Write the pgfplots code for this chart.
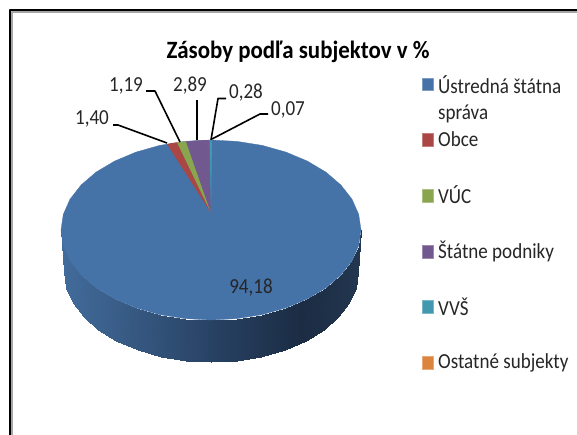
\documentclass[border=0pt]{standalone}
\usepackage{fontspec}
\setmainfont{Carlito}
\usepackage{pgfplots}
\pgfplotsset{compat=1.18}
\definecolor{cblue}{HTML}{4572A7}
\definecolor{cred}{HTML}{AA4643}
\definecolor{cgreen}{HTML}{89A54E}
\definecolor{cpurple}{HTML}{71588F}
\definecolor{cteal}{HTML}{4198AF}
\definecolor{corange}{HTML}{DB843D}
\pgfplotsset{
 colormap={side}{
  rgb255(0cm)=(66,108,156);
  rgb255(4cm)=(56,92,134);
  rgb255(10cm)=(40,66,100);
  rgb255(16cm)=(27,44,67);
  rgb255(20cm)=(35,55,80)
 }
}
\tikzset{lbl/.style={font=\fontsize{21.5}{21.5}\selectfont,text=black!85,inner sep=0pt,xscale=0.89},
 leg/.style={font=\fontsize{21.5}{21.5}\selectfont,text=black!85,inner sep=0pt,anchor=west,xscale=0.89}}
\begin{document}
\begin{tikzpicture}
\begin{axis}[
  scale only axis,width=577bp,height=435bp,
  xmin=0,xmax=577,ymin=0,ymax=435,y dir=reverse,
  axis lines=none,clip=true,
  every axis plot/.append style={line join=round}
]
% page background
\addplot[draw=none,fill=white,forget plot] coordinates {(0,0)(577,0)(577,435)(0,435)} -- cycle;
% frame
\addplot[draw=gray!70,line width=1.6bp] coordinates {(577,12)(12,12)(12,435)};
\addplot[draw=black,line width=2.2bp] coordinates {(577,10)(10,10)(10,435)};
% side of the pie
\addplot[surf,shader=interp,mesh/rows=2,point meta=x,point meta min=61,point meta max=361] coordinates {
 (61,230)(63.3,245.6)(70,260.8)(81.1,275)(96.1,287.9)(114.6,298.9)(136,307.9)(159.7,314.6)(185,318.6)(211,320)(237,318.6)(262.3,314.6)(286,307.9)(307.4,298.9)(325.9,287.9)(340.9,275)(352,260.8)(358.7,245.6)(361,230)

 (64,272)(66.2,287.6)(72.9,302.8)(83.7,317)(98.4,329.9)(116.5,340.9)(137.5,349.9)(160.7,356.6)(185.5,360.6)(211,362)(236.5,360.6)(261.3,356.6)(284.5,349.9)(305.5,340.9)(323.6,329.9)(338.3,317)(349.1,302.8)(355.8,287.6)(358,272)
};
% top face
\addplot[fill=cblue,draw=cblue,line width=0.3bp] coordinates {
 (361,230)(358.7,214.4)(352,199.2)(340.9,185)(325.9,172.1)(307.4,161.1)(286,152.1)(262.3,145.4)(237,141.4)(211,140)(185,141.4)(159.7,145.4)(136,152.1)(114.6,161.1)(96.1,172.1)(81.1,185)(70,199.2)(63.3,214.4)(61,230)(63.3,245.6)(70,260.8)(81.1,275)(96.1,287.9)(114.6,298.9)(136,307.9)(159.7,314.6)(185,318.6)(211,320)(237,318.6)(262.3,314.6)(286,307.9)(307.4,298.9)(325.9,287.9)(340.9,275)(352,260.8)(358.7,245.6)
} -- cycle;
% small sectors
\addplot[fill=cred,draw=none] coordinates {(211,213)(167,144)(172,143.1)(177,142.3)} -- cycle;
\addplot[fill=cgreen,draw=none] coordinates {(211,213)(177,142.3)(181.5,141.7)(186,141.3)} -- cycle;
\addplot[fill=cpurple,draw=none] coordinates {(211,213)(186,141.3)(197,140.4)(209,140)} -- cycle;
\addplot[fill=cteal,draw=none] coordinates {(211,213)(209.6,140)(212,140)} -- cycle;
% leader lines
\addplot[black,line width=1.6bp] coordinates {(113,125)(118,125)(167,143)};
\addplot[black,line width=1.6bp] coordinates {(146,91)(155,91)(180,142)};
\addplot[black,line width=1.6bp] coordinates {(197,100)(197,140)};
\addplot[black,line width=1.6bp] coordinates {(226,98.5)(218,98.5)(211,140)};
\addplot[black,line width=1.6bp] coordinates {(268,114)(260,114)(212,139)};
% legend swatches
\addplot[fill=cblue,draw=cblue!70] coordinates {(422.5,78.5)(433,78.5)(433,90.5)(422.5,90.5)} -- cycle;
\addplot[fill=cred,draw=cred!70] coordinates {(422.5,133.5)(433,133.5)(433,146.5)(422.5,146.5)} -- cycle;
\addplot[fill=cgreen,draw=cgreen!70] coordinates {(422.5,189.5)(433,189.5)(433,202)(422.5,202)} -- cycle;
\addplot[fill=cpurple,draw=cpurple!70] coordinates {(422.5,245.5)(433,245.5)(433,258)(422.5,258)} -- cycle;
\addplot[fill=cteal,draw=cteal!70] coordinates {(422.5,300.5)(433,300.5)(433,313)(422.5,313)} -- cycle;
\addplot[fill=corange,draw=corange!70] coordinates {(422.5,356.5)(433,356.5)(433,369)(422.5,369)} -- cycle;
% texts
\node[font=\fontsize{25}{25}\bfseries\selectfont,text=black,inner sep=0pt,xscale=0.92] at (axis cs:298,52) {Zásoby podľa subjektov v \%};
\node[lbl] at (axis cs:92,119) {1,40};
\node[lbl] at (axis cs:126,86) {1,19};
\node[lbl] at (axis cs:190,86) {2,89};
\node[lbl] at (axis cs:246,93) {0,28};
\node[lbl] at (axis cs:288,110) {0,07};
\node[lbl] at (axis cs:251,288) {94,18};
\node[leg] at (axis cs:438,85) {Ústredná štátna};
\node[leg] at (axis cs:438,114) {správa};
\node[leg] at (axis cs:438,139) {Obce};
\node[leg] at (axis cs:438,195) {VÚC};
\node[leg] at (axis cs:438,251) {Štátne podniky};
\node[leg] at (axis cs:438,307) {VVŠ};
\node[leg] at (axis cs:438,363) {Ostatné subjekty};
\end{axis}
\end{tikzpicture}
\end{document}
